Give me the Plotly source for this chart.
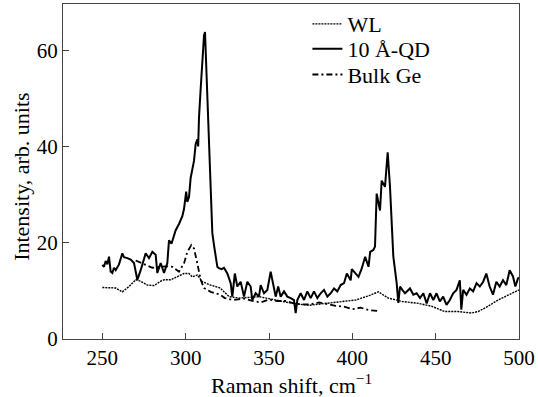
import plotly.graph_objects as go

# 10 Å-QD (solid)
qd_x = [250, 251, 252, 253, 254, 255, 256, 257, 258, 260,
        262, 263, 265, 267, 269, 271, 273, 276, 278, 280,
        282, 283, 285, 287, 289, 290, 291.5, 293, 294, 296,
        298, 299, 300.3, 301, 302, 303, 304, 305, 306, 307,
        307.5, 308, 309, 310, 311, 311.6, 312, 313, 314, 315,
        316, 317, 318, 319, 320, 321.5, 323, 325, 327, 328,
        329.5, 331, 333, 335, 337, 339, 340, 342, 344, 345,
        347, 349, 351, 352.5, 354, 355.5, 357, 359, 361, 363,
        365, 366, 367, 369, 371, 373, 375, 377, 379, 381,
        383, 385, 387, 389, 391, 393, 395, 396.7, 399, 399.7,
        401.7, 403.7, 405.5, 407.7, 409.7, 410.7, 412.6, 413.6, 414.6, 416.6,
        417.6, 419.6, 421.2, 422.6, 424.6, 426.6, 427.6, 428.6, 430, 431.6,
        434.6, 436.6, 438.6, 440.6, 442.6, 444.6, 446.6, 448.6, 450.5, 452.5,
        454.5, 456.5, 458.5, 460.5, 462.5, 464.5, 465.4, 466.5, 468.5, 470.5,
        472.5, 474.5, 476.5, 478.5, 480.4, 482.4, 484.4, 486.4, 488.4, 490.4,
        492.4, 494.4, 496.4, 497.8, 499.4, 500]
qd_y = [15.4, 15.0, 16.2, 15.5, 17.1, 14.0, 13.7, 14.8, 14.3, 15.5,
        17.8, 17.0, 16.8, 16.5, 15.8, 12.3, 14.3, 17.8, 16.8, 18.1,
        17.5, 13.7, 15.8, 13.7, 15.8, 20.5, 19.8, 21.5, 22.6, 23.9,
        25.5, 27.0, 30.6, 28.5, 29.5, 33.5, 35.0, 37.0, 40.5, 41.5,
        40.0, 46.0, 52.0, 58.0, 63.0, 63.8, 60.0, 50.0, 38.0, 29.0,
        22.0, 19.5, 17.0, 15.0, 14.7, 14.5, 14.8, 13.6, 11.6, 8.8,
        13.6, 10.9, 11.9, 8.8, 11.9, 10.9, 8.1, 9.5, 8.8, 11.2,
        9.5, 10.2, 14.0, 11.2, 8.8, 10.9, 8.8, 9.9, 8.8, 8.5,
        8.1, 5.4, 8.1, 9.5, 8.1, 9.9, 8.5, 9.9, 8.5, 9.5,
        10.2, 8.8, 9.5, 10.5, 9.9, 11.2, 11.6, 13.6, 12.2, 14.5,
        13.6, 12.9, 14.5, 17.1, 15.0, 18.1, 18.5, 19.2, 30.2, 26.7,
        32.9, 31.6, 38.8, 31.6, 17.1, 11.6, 7.5, 10.9, 10.2, 9.5,
        10.5, 9.2, 9.5, 8.5, 9.5, 7.4, 9.5, 8.1, 9.5, 7.8,
        8.8, 7.1, 8.1, 9.5, 10.2, 12.2, 6.1, 10.2, 9.2, 10.5,
        9.9, 11.6, 10.9, 11.9, 13.6, 10.9, 9.2, 11.9, 10.9, 12.2,
        11.2, 14.3, 13.0, 10.9, 12.6, 12.8]

# WL (dotted)
wl_x = [250, 258, 262, 266, 270, 273, 277, 281, 285, 287,
        291, 295, 299, 302, 304, 307, 310, 315, 320.7, 326,
        332, 344, 354, 364, 374, 384, 394, 402, 410, 415.6,
        421.6, 426, 430, 439.6, 447.6, 455.5, 463.5, 471.5, 475.5, 481.4,
        487.4, 493.4, 500]
wl_y = [10.7, 10.6, 9.8, 10.9, 12.3, 12.0, 11.2, 11.1, 12.0, 12.3,
        12.3, 12.9, 13.6, 13.6, 12.9, 13.3, 11.9, 11.2, 10.6, 8.8,
        8.5, 8.8, 8.1, 7.4, 7.0, 7.4, 7.7, 8.1, 9.0, 9.8,
        8.5, 8.1, 7.8, 7.4, 6.8, 5.7, 5.7, 5.4, 5.7, 6.8,
        8.1, 9.1, 10.2]

# Bulk Ge (dash-dot)
ge_x = [270, 275, 280, 285, 289, 292, 296, 299, 301, 303.4,
        305, 307, 309, 311, 315, 320.7, 323.5, 328, 335, 340,
        345, 350, 355, 360, 365, 370, 375, 380, 385, 390,
        395, 400, 405, 410, 415.6]
ge_y = [16.3, 15.5, 14.8, 15.0, 15.1, 15.0, 14.0, 15.7, 18.1, 19.5,
        18.8, 15.7, 12.3, 10.6, 9.8, 9.2, 8.5, 8.1, 8.4, 7.9,
        7.6, 8.2, 7.9, 7.9, 7.4, 7.2, 7.2, 7.6, 7.2, 6.9,
        6.7, 6.2, 6.5, 6.0, 5.8]

x_ticks = [250, 300, 350, 400, 450, 500]
y_ticks = [0, 20, 40, 60]
x_title = "Raman shift, cm<sup>−1</sup>"
y_title = "Intensity, arb. units"

assert len(qd_x) == len(qd_y)
assert len(wl_x) == len(wl_y)
assert len(ge_x) == len(ge_y)

FONT = "Times New Roman"

fig = go.Figure()
fig.add_trace(go.Scatter(x=wl_x, y=wl_y, mode="lines", name="WL", legend="legend",
                         line=dict(color="black", width=1.4, dash="2px,1px")))
fig.add_trace(go.Scatter(x=qd_x, y=qd_y, mode="lines", name="10 Å-QD", legend="legend2",
                         line=dict(color="black", width=2)))
fig.add_trace(go.Scatter(x=ge_x, y=ge_y, mode="lines", name="Bulk Ge", legend="legend3",
                         line=dict(color="black", width=1.8, dash="6px,3px,2px,3px")))

leg_common = dict(x=0.536, xanchor="left", yanchor="middle",
                  bgcolor="rgba(0,0,0,0)", font=dict(family=FONT, size=22))

fig.update_layout(
    width=538, height=397,
    margin=dict(l=63, r=17, t=3, b=58),
    paper_bgcolor="white", plot_bgcolor="white",
    font=dict(family=FONT, size=22, color="black"),
    showlegend=True,
    legend=dict(y=0.940, **leg_common),
    legend2=dict(y=0.866, **leg_common),
    legend3=dict(y=0.789, **leg_common),
    annotations=[
        dict(text=x_title, xref="paper", yref="paper", x=0.5, y=0,
             xanchor="center", yanchor="top", yshift=-29, showarrow=False,
             font=dict(family=FONT, size=22)),
        dict(text=y_title, xref="paper", yref="paper", x=0, y=0.484,
             xanchor="center", yanchor="middle", xshift=-41, textangle=-90,
             showarrow=False, font=dict(family=FONT, size=22)),
    ],
)
fig.update_xaxes(
    range=[226.4, 500], tickvals=x_ticks, ticktext=[str(v) for v in x_ticks],
    ticks="inside", ticklen=6, tickcolor="#444", showgrid=False, zeroline=False,
    showline=True, linecolor="#444", linewidth=1.3, mirror=True,
    tickfont=dict(family=FONT, size=21),
)
fig.update_yaxes(
    range=[0, 69.6], tickvals=y_ticks, ticktext=[str(v) for v in y_ticks],
    ticks="inside", ticklen=6, tickcolor="#444", showgrid=False, zeroline=False,
    showline=True, linecolor="#444", linewidth=1.3, mirror=True,
    tickfont=dict(family=FONT, size=21),
)

fig.write_html("out.html")
